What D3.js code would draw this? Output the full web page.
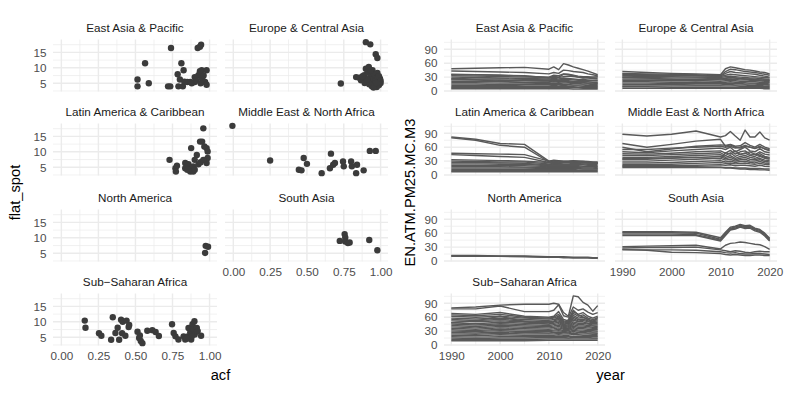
<!DOCTYPE html>
<html>
<head>
<meta charset="utf-8">
<script src="https://cdn.jsdelivr.net/npm/d3@7"></script>
<style>
body { margin: 0; background: #fff; }
svg { display: block; font-family: "Liberation Sans", Arial, sans-serif; }
</style>
</head>
<body>
<script>
var regions = ["East Asia & Pacific", "Europe & Central Asia", "Latin America & Caribbean",
  "Middle East & North Africa", "North America", "South Asia", "Sub\u2212Saharan Africa"];

var acfTicks = [0, 0.25, 0.5, 0.75, 1], acfMinor = [0.125, 0.375, 0.625, 0.875];
var flatTicks = [5, 10, 15], flatMinor = [2.5, 7.5, 12.5, 17.5];
var yearTicks = [1990, 2000, 2010, 2020], yearMinor = [1995, 2005, 2015];
var pmTicks = [0, 30, 60, 90], pmMinor = [15, 45, 75, 105];
var years = [1990, 1995, 2000, 2005, 2010, 2011, 2012, 2013, 2014, 2015, 2016, 2017, 2018, 2019, 2020];

// [acf, flat_spot] per country
var eapFeat = [[0.514,6.2],[0.514,4.0],[0.565,11.5],[0.59,5.0],[0.74,16.4],[0.72,4.0],[0.735,4.0],[0.785,7.9],
  [0.81,11.5],[0.825,9.2],[0.79,4.0],[0.82,4.0],[0.80,6.2],[0.83,5.5],[0.85,5.4],[0.87,5.4],[0.90,5.4],
  [0.92,16.4],[0.943,17.5],[0.925,7.6],[0.935,8.9],[0.947,9.2],[0.98,9.2],[0.95,6.5],[0.97,5.4],[0.98,4.5],
  [0.90,7.0],[0.88,5.0],[0.91,6.0],[0.94,5.0],[0.96,7.5],[0.935,16.8]];
var ecaFeat = [[0.73,4.9],[0.90,18.3],[0.93,17.6],[0.967,14.4],[0.978,13.2],[0.834,7.0],[0.856,6.8],[0.878,6.5],
  [0.889,7.6],[0.90,9.7],[0.912,8.6],[0.916,6.0],[0.93,7.3],[0.934,5.4],[0.945,9.2],[0.952,6.5],[0.956,7.9],
  [0.96,4.9],[0.967,6.0],[0.974,3.8],[0.978,8.3],[0.983,5.4],[0.989,4.4],[0.996,6.5],[1.0,5.1],[0.867,6.0],
  [0.892,5.1],[0.923,4.7],[0.941,4.0],[0.952,3.6],[0.908,6.2],[0.878,7.3],[0.978,6.8],[0.989,7.3],[1.0,5.8],
  [0.971,5.1],[0.93,9.2],[0.92,10.3]];
var lacFeat = [[0.73,7.4],[0.77,4.7],[0.773,3.6],[0.78,5.5],[0.836,6.4],[0.858,6.0],[0.87,4.7],[0.87,3.6],
  [0.88,4.2],[0.89,5.3],[0.876,11.2],[0.90,7.4],[0.914,9.0],[0.925,6.0],[0.94,6.6],[0.936,13.3],[0.95,13.3],
  [0.958,17.6],[0.965,11.7],[0.98,11.2],[0.987,10.1],[0.987,8.0],[0.98,6.4],[0.836,4.7],[0.85,4.2],[0.89,3.6],
  [0.958,7.4],[0.90,4.2]];
var mnaFeat = [[-0.006,18.4],[0.25,7.2],[0.445,4.2],[0.463,4.0],[0.478,8.0],[0.50,6.1],[0.60,3.1],[0.656,4.7],
  [0.678,5.8],[0.663,9.4],[0.69,6.4],[0.745,6.9],[0.75,5.3],[0.80,6.9],[0.805,5.3],[0.84,5.8],[0.834,3.1],
  [0.885,4.0],[0.927,10.3],[0.967,10.3]];
var namFeat = [[0.97,5.1],[0.974,7.4],[0.99,7.1]];
var sasFeat = [[0.723,9.0],[0.756,11.2],[0.76,10.1],[0.76,8.8],[0.778,8.3],[0.79,8.5],[0.923,9.3],[0.978,6.0]];
var ssaFeat = [[0.158,10.4],[0.163,8.1],[0.254,6.3],[0.27,5.5],[0.336,4.2],[0.347,11.5],[0.365,6.4],[0.38,8.1],
  [0.39,4.2],[0.403,10.7],[0.414,10.0],[0.41,6.3],[0.432,5.5],[0.44,10.4],[0.454,8.3],[0.458,9.0],[0.514,6.8],
  [0.525,4.8],[0.536,3.8],[0.547,3.1],[0.53,5.6],[0.58,7.1],[0.614,7.3],[0.636,6.7],[0.658,5.4],[0.747,9.2],
  [0.758,6.4],[0.77,5.3],[0.79,4.3],[0.825,5.3],[0.836,4.3],[0.853,5.3],[0.858,8.0],[0.87,6.6],[0.876,4.3],
  [0.885,9.2],[0.89,7.7],[0.898,10.2],[0.90,5.9],[0.914,8.0],[0.92,7.0],[0.943,5.5],[0.88,5.3],[0.847,4.6]];

// EN.ATM.PM25.MC.M3 per country, one value per entry of years
var eapPm = [
  [48,49,50,51,47,52,46,59,56,52,49,46,43,39,35],
  [43,42,41,40,37,40,38,45,44,42,41,40,37,35,33],
  [36,35,34,33,28,32,30,36,35,33,30,28,29,30,31],
  [35,35,34,32,30,34,33,37,36,34,32,31,31,30,30],
  [33,32,31,30,29,30,29,31,32,31,30,29,28,27,27],
  [30,29,28,27,26,27,26,28,27,26,25,25,24,23,24],
  [27,26,26,25,24,25,24,25,25,24,23,22,22,22,22],
  [26,24,21,18,20,22,20,21,20,19,18,18,17,17,16],
  [24,24,23,22,22,23,22,23,22,21,21,20,20,19,19],
  [21,21,20,19,19,20,19,20,19,19,18,18,17,17,17],
  [18,18,17,17,16,17,16,17,17,16,16,15,15,14,14],
  [15,15,14,14,14,14,14,14,14,13,13,13,12,12,12],
  [12,12,12,11,11,12,11,12,11,11,11,10,10,10,10],
  [9,9,9,9,9,9,9,9,9,9,8,8,8,8,8],
  [7,7,7,7,7,7,7,7,7,7,7,6,6,6,6],
  [5,5,5,5,5,5,5,5,5,4,4,4,4,4,4]];
var ecaPm = [
  [42,40,38,37,35,48,52,50,48,46,45,43,41,40,37],
  [38,37,36,35,33,42,47,46,44,42,41,40,38,36,34],
  [36,35,34,33,32,38,42,40,39,38,37,36,34,32,30],
  [34,34,33,33,31,34,36,35,34,33,32,31,30,29,28],
  [32,31,31,30,29,31,32,31,30,29,28,28,27,26,25],
  [30,28,25,22,26,27,29,28,27,26,25,25,24,23,22],
  [29,29,28,28,27,28,29,28,27,26,26,25,24,24,23],
  [26,26,25,25,24,25,26,25,24,24,23,22,22,21,20],
  [23,23,22,22,21,22,23,22,21,21,20,20,19,18,18],
  [20,20,19,19,18,19,20,19,18,18,17,17,16,16,15],
  [17,17,16,16,16,16,17,16,16,15,15,15,14,14,13],
  [14,14,14,13,13,14,14,13,13,13,12,12,12,11,11],
  [11,11,11,11,11,11,11,11,10,10,10,10,9,9,9],
  [9,9,8,8,8,8,8,8,8,8,8,8,7,7,7],
  [6,6,6,6,6,6,6,6,6,6,6,6,6,5,5]];
var lacPm = [
  [82,77,68,66,30,32,31,30,30,31,30,30,29,28,28],
  [80,75,64,60,28,30,29,29,29,30,29,28,27,27,26],
  [47,46,45,44,30,31,30,29,29,30,30,29,28,27,27],
  [44,42,40,38,27,28,27,27,27,28,28,27,26,26,25],
  [33,32,31,30,27,28,27,27,27,27,27,26,26,25,25],
  [30,29,28,28,24,25,25,24,24,25,25,24,23,23,23],
  [27,27,26,25,22,23,23,22,22,22,22,22,21,21,20],
  [24,24,23,23,20,21,20,20,20,20,20,19,19,19,18],
  [21,21,20,20,18,18,18,18,18,18,18,17,17,17,16],
  [18,18,18,17,16,16,16,16,16,16,16,15,15,15,14],
  [15,15,15,15,14,14,14,14,14,14,14,13,13,13,13],
  [12,12,12,12,12,12,12,12,12,12,11,11,11,11,11],
  [9,9,9,9,9,9,9,9,9,9,9,9,9,9,9],
  [7,7,7,7,7,7,7,7,7,7,7,7,7,7,7]];
var mnaPm = [
  [88,84,88,95,82,85,94,84,75,97,82,82,93,80,75],
  [68,60,66,73,77,62,65,60,58,62,60,58,60,57,55],
  [60,50,56,62,65,64,66,62,63,70,64,60,66,60,57],
  [55,55,58,60,62,60,62,58,60,64,60,57,62,56,52],
  [50,48,52,55,58,55,60,50,55,60,52,50,57,50,48],
  [46,45,47,50,52,47,53,45,50,52,45,44,50,45,43],
  [42,42,44,46,48,42,48,40,45,47,42,40,46,40,38],
  [38,38,40,42,44,38,42,36,40,42,38,36,40,36,34],
  [35,36,37,38,35,48,45,52,44,47,50,45,42,38,36],
  [34,34,36,38,40,35,38,33,36,38,34,33,36,32,31],
  [30,30,32,34,36,32,34,30,33,34,30,30,33,29,28],
  [26,26,27,29,31,28,30,27,29,30,27,26,29,26,25],
  [22,22,23,25,27,25,26,24,25,26,24,23,25,23,22],
  [20,20,20,21,22,21,22,20,21,21,20,19,21,19,18],
  [18,18,18,18,17,16,16,15,15,15,14,14,14,13,13],
  [16,16,16,16,16,15,15,14,13,13,12,12,11,11,10]];
var namPm = [
  [12,12,11,11,9,9,9,9,8,8,8,8,8,7,7],
  [11,11,10,10,8,8,8,8,8,7,7,7,7,7,7],
  [10,10,10,9,8,8,8,7,7,7,7,7,7,6,6]];
var sasPm = [
  [63,63,63,62,50,62,73,75,79,76,77,71,68,60,49],
  [61,61,61,60,47,60,71,73,77,74,75,69,66,58,47],
  [58,58,58,57,45,57,69,71,75,72,73,67,64,56,45],
  [55,55,55,55,43,55,67,69,73,70,71,65,62,54,43],
  [31,32,33,34,26,34,38,39,41,40,38,36,35,31,25],
  [28,29,29,30,24,22,20,22,21,19,18,20,21,20,20],
  [25,23,19,18,16,14,13,14,13,12,12,13,13,12,12],
  [24,24,24,23,20,18,17,18,16,15,15,16,16,15,14]];
var ssaPm = [
  [80,82,86,88,88,90,88,70,62,106,104,92,86,73,85],
  [78,78,84,72,72,75,87,63,60,82,75,78,71,66,70],
  [68,66,70,62,60,62,72,55,52,72,66,70,62,58,62],
  [65,63,66,60,58,60,66,52,50,68,62,65,58,55,58],
  [62,60,62,58,56,58,62,50,48,64,58,60,55,52,55],
  [58,56,58,55,53,55,58,48,46,60,55,56,52,50,52],
  [55,53,55,52,50,52,55,46,45,57,52,53,50,48,49],
  [52,50,52,50,48,50,52,44,43,54,50,50,47,46,46],
  [48,52,62,50,45,50,62,40,55,75,65,60,55,50,60],
  [48,46,49,47,45,47,49,42,41,50,47,47,45,43,43],
  [45,43,46,44,42,44,46,40,39,47,44,44,42,41,40],
  [42,40,43,41,40,41,43,38,37,44,41,41,40,38,38],
  [39,37,40,38,37,38,40,36,35,41,38,38,37,36,35],
  [36,34,37,35,34,35,37,34,33,38,35,35,34,33,33],
  [33,31,34,32,31,32,34,31,31,35,32,32,31,31,30],
  [30,29,31,29,29,30,31,29,28,32,30,29,29,28,28],
  [27,26,28,27,26,27,28,27,26,29,27,27,26,26,25],
  [24,23,25,24,24,24,25,24,24,26,24,24,24,23,23],
  [21,20,22,21,21,21,22,21,21,23,22,21,21,21,20],
  [18,17,18,18,18,18,19,18,18,19,19,18,18,18,18],
  [15,14,15,15,16,16,16,16,15,16,16,16,16,15,15],
  [12,12,12,12,13,13,13,13,13,13,13,13,13,13,13],
  [9,9,9,9,10,10,10,10,10,10,10,10,10,10,10]];

var features = [eapFeat, ecaFeat, lacFeat, mnaFeat, namFeat, sasFeat, ssaFeat];
var series = [eapPm, ecaPm, lacPm, mnaPm, namPm, sasPm, ssaPm];

var width = 793, height = 397;
var svg = d3.select("body").append("svg").attr("width", width).attr("height", height);

var rowTop = [39.5, 123.5, 209.5, 293.5], panelH = 52;
var leftCols = [[53, 217], [225, 388]], rightCols = [[444, 605], [615, 777]];

function expand(ext) {
  var r = ext[1] - ext[0];
  return [ext[0] - r * 0.05, ext[1] + r * 0.05];
}

var acfDom = expand(d3.extent(d3.merge(features), function(d) { return d[0]; }));
var flatDom = expand(d3.extent(d3.merge(features), function(d) { return d[1]; }));
var yearDom = expand(d3.extent(years));
var pmDom = expand(d3.extent(d3.merge(d3.merge(series))));

function styleAxis(g) {
  g.attr("font-family", null).attr("font-size", null);
  g.select(".domain").remove();
  g.selectAll("text").attr("fill", "#4D4D4D").style("font-size", "11.7px");
}

function facets(cols, xDom, yDom, xTicks, xMinor, yTicks, yMinor, xFmt, draw) {
  regions.forEach(function(name, i) {
    var row = Math.floor(i / 2), col = i % 2;
    var x = d3.scaleLinear().domain(xDom).range(cols[col]);
    var y = d3.scaleLinear().domain(yDom).range([rowTop[row] + panelH, rowTop[row]]);
    var g = svg.append("g");

    var inX = function(v) { return v >= xDom[0] && v <= xDom[1]; };
    var inY = function(v) { return v >= yDom[0] && v <= yDom[1]; };
    var grid = g.append("g").attr("stroke", "#EBEBEB");
    grid.selectAll(".vmin").data(xMinor.filter(inX)).enter().append("line")
      .attr("x1", x).attr("x2", x).attr("y1", y.range()[0]).attr("y2", y.range()[1]).attr("stroke-width", 0.71);
    grid.selectAll(".hmin").data(yMinor.filter(inY)).enter().append("line")
      .attr("y1", y).attr("y2", y).attr("x1", x.range()[0]).attr("x2", x.range()[1]).attr("stroke-width", 0.71);
    grid.selectAll(".vmaj").data(xTicks.filter(inX)).enter().append("line")
      .attr("x1", x).attr("x2", x).attr("y1", y.range()[0]).attr("y2", y.range()[1]).attr("stroke-width", 1.42);
    grid.selectAll(".hmaj").data(yTicks.filter(inY)).enter().append("line")
      .attr("y1", y).attr("y2", y).attr("x1", x.range()[0]).attr("x2", x.range()[1]).attr("stroke-width", 1.42);

    g.append("text")
      .attr("x", (cols[col][0] + cols[col][1]) / 2)
      .attr("y", rowTop[row] - 12.5)
      .attr("text-anchor", "middle")
      .attr("dominant-baseline", "central")
      .attr("fill", "#1A1A1A")
      .style("font-size", "11.7px")
      .text(name);

    draw(g, i, x, y);

    if (col === 0) {
      g.append("g").attr("transform", "translate(" + cols[0][0] + ",0)")
        .call(d3.axisLeft(y).tickValues(yTicks).tickSize(0).tickPadding(6.6))
        .call(styleAxis);
    }
    var lastInCol = (i + 2 >= regions.length);
    if (lastInCol) {
      g.append("g").attr("transform", "translate(0," + (rowTop[row] + panelH) + ")")
        .call(d3.axisBottom(x).tickValues(xTicks).tickSize(0).tickPadding(6.6).tickFormat(xFmt))
        .call(styleAxis);
    }
  });
}

// left: acf vs flat_spot scatter
facets(leftCols, acfDom, flatDom, acfTicks, acfMinor, flatTicks, flatMinor, d3.format(".2f"),
  function(g, i, x, y) {
    g.append("g").selectAll("circle").data(features[i]).enter().append("circle")
      .attr("cx", function(d) { return x(d[0]); })
      .attr("cy", function(d) { return y(d[1]); })
      .attr("r", 3.2)
      .attr("fill", "#3B3B3B");
  });

// right: PM2.5 over time
facets(rightCols, yearDom, pmDom, yearTicks, yearMinor, pmTicks, pmMinor, d3.format("d"),
  function(g, i, x, y) {
    var line = d3.line()
      .x(function(d, k) { return x(years[k]); })
      .y(function(d) { return y(d); });
    g.append("g").selectAll("path").data(series[i]).enter().append("path")
      .attr("d", line)
      .attr("fill", "none")
      .attr("stroke", "#595959")
      .attr("stroke-width", 1.42)
      .attr("stroke-linejoin", "round");
  });

// axis titles
function title(txt, x, y, rot) {
  svg.append("text")
    .attr("transform", "translate(" + x + "," + y + ")" + (rot ? " rotate(-90)" : ""))
    .attr("text-anchor", "middle")
    .attr("dominant-baseline", "central")
    .attr("fill", "#000")
    .style("font-size", "14.67px")
    .text(txt);
}
title("acf", (leftCols[0][0] + leftCols[1][1]) / 2, 375, false);
title("year", (rightCols[0][0] + rightCols[1][1]) / 2, 375, false);
title("flat_spot", 15, 192.5, true);
title("EN.ATM.PM25.MC.M3", 410, 192.5, true);
</script>
</body>
</html>
